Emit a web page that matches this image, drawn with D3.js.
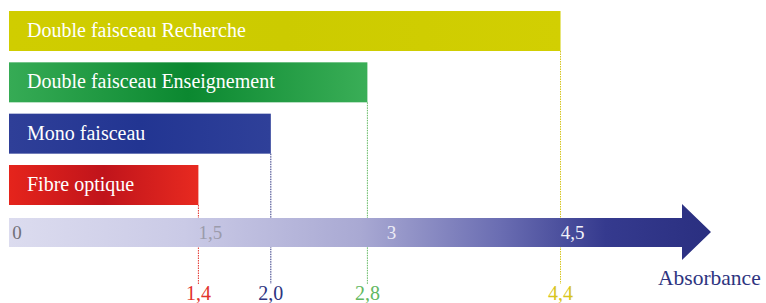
<!DOCTYPE html>
<html>
<head>
<meta charset="utf-8">
<script src="https://cdn.jsdelivr.net/npm/d3@7"></script>
<style>
  body { margin: 0; background: #fff; }
  svg { display: block; font-family: "Liberation Serif", "DejaVu Serif", serif; }
</style>
</head>
<body>
<div id="wrapper"></div>
<script>
// data
let categories = ['Double faisceau Recherche', 'Double faisceau Enseignement', 'Mono faisceau', 'Fibre optique'];
let values = [4.4, 2.8, 2.0, 1.4];
let valueLabels = ['4,4', '2,8', '2,0', '1,4'];
let barColors = [
    ['#d0cd00', '#cccb00', '#d2cf02'],
    ['#36ab55', '#0b8830', '#3aae57'],
    ['#2f3f98', '#223592', '#2f4099'],
    ['#e5241c', '#c0141b', '#e82a20']
];
let labelColors = ['#d8c51c', '#62b861', '#2e3480', '#e2332c'];
let axisTicks = [0, 1.5, 3, 4.5];
let axisTickLabels = ['0', '1,5', '3', '4,5'];
let axisTickColors = ['#707078', '#9b9bab', '#ececf6', '#f2f2fa'];
let axisTitle = 'Absorbance';

let width = 766, height = 303;

let svg = d3.select('#wrapper').append('svg')
    .attr('width', width)
    .attr('height', height);

let defs = svg.append('defs');

// scales
let xScale = d3.scaleLinear().domain([0, 4.5]).range([29.4, 572.6]);
let yScale = d3.scaleBand().domain(categories).range([11, 205]).paddingInner(0.2208).paddingOuter(0);

let barLeft = 9;
let lineBottom = 284;

// gradients for bars
barColors.forEach((c, i) => {
    let g = defs.append('linearGradient').attr('id', 'barGrad' + i)
        .attr('x1', '0%').attr('x2', '100%').attr('y1', '0%').attr('y2', '0%');
    g.append('stop').attr('offset', '0%').attr('stop-color', c[0]);
    g.append('stop').attr('offset', '50%').attr('stop-color', c[1]);
    g.append('stop').attr('offset', '100%').attr('stop-color', c[2]);
});

let arrowGrad = defs.append('linearGradient').attr('id', 'arrowGrad')
    .attr('gradientUnits', 'userSpaceOnUse')
    .attr('x1', barLeft).attr('x2', 711).attr('y1', 0).attr('y2', 0);
[['0%', '#dcdcef'], ['25%', '#cacae6'], ['50%', '#a9a9d3'], ['70%', '#6a6db2'], ['85%', '#353a8e'], ['100%', '#2a2f80']]
    .forEach(s => arrowGrad.append('stop').attr('offset', s[0]).attr('stop-color', s[1]));

// dotted reference lines
svg.selectAll('.ref-line').data(values).enter().append('line')
    .classed('ref-line', true)
    .attr('x1', d => xScale(d)).attr('x2', d => xScale(d))
    .attr('y1', (d, i) => yScale(categories[i]) + yScale.bandwidth())
    .attr('y2', lineBottom)
    .attr('stroke', (d, i) => labelColors[i])
    .attr('stroke-width', 1)
    .attr('stroke-dasharray', '1.5,1');

// bars
let barGroups = svg.selectAll('.bar').data(values).enter().append('g').classed('bar', true)
    .attr('transform', (d, i) => 'translate(0,' + yScale(categories[i]) + ')');

barGroups.append('rect')
    .attr('x', barLeft)
    .attr('y', 0)
    .attr('width', d => xScale(d) - barLeft)
    .attr('height', yScale.bandwidth())
    .attr('fill', (d, i) => 'url(#barGrad' + i + ')');

barGroups.append('text')
    .text((d, i) => categories[i])
    .attr('x', 27)
    .attr('y', yScale.bandwidth() / 2 + 6)
    .attr('fill', '#ffffff')
    .style('font-size', '20px');

// arrow axis
let arrowTop = 218, arrowBottom = 247, headBase = 682, headTop = 204, headBottom = 260, tip = 711;
let arrowPath = d3.path();
arrowPath.moveTo(barLeft, arrowTop);
arrowPath.lineTo(headBase, arrowTop);
arrowPath.lineTo(headBase, headTop);
arrowPath.lineTo(tip, (headTop + headBottom) / 2);
arrowPath.lineTo(headBase, headBottom);
arrowPath.lineTo(headBase, arrowBottom);
arrowPath.lineTo(barLeft, arrowBottom);
arrowPath.closePath();

svg.append('path').attr('d', arrowPath.toString()).attr('fill', 'url(#arrowGrad)');

svg.selectAll('.tick-label').data(axisTicks).enter().append('text')
    .classed('tick-label', true)
    .text((d, i) => axisTickLabels[i])
    .attr('x', d => Math.min(xScale(d), d === 0 ? 17 : Infinity))
    .attr('y', 239)
    .attr('text-anchor', 'middle')
    .attr('fill', (d, i) => axisTickColors[i])
    .style('font-size', '19px');

// value labels under the axis
svg.selectAll('.value-label').data(values).enter().append('text')
    .classed('value-label', true)
    .text((d, i) => valueLabels[i])
    .attr('x', d => xScale(d))
    .attr('y', 300)
    .attr('text-anchor', 'middle')
    .attr('fill', (d, i) => labelColors[i])
    .style('font-size', '20px');

svg.append('text')
    .text(axisTitle)
    .attr('x', 658)
    .attr('y', 285)
    .attr('fill', '#2e3480')
    .style('font-size', '21.5px');
</script>
</body>
</html>
